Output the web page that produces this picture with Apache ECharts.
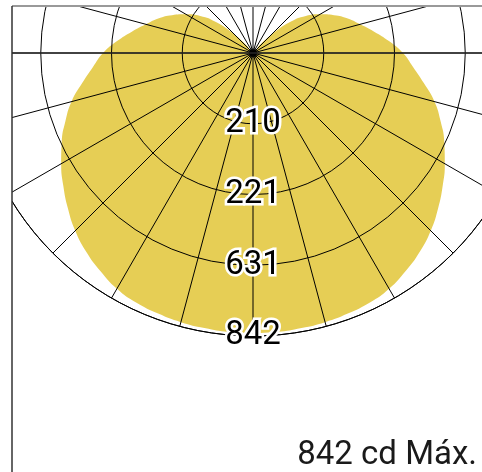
<!DOCTYPE html>
<html>
<head>
<meta charset="utf-8">
<script src="https://cdn.jsdelivr.net/npm/echarts@6/dist/echarts.min.js"></script>
<style>
html,body{margin:0;padding:0;background:#fff;}
#chart{width:482px;height:472px;}
</style>
</head>
<body>
<div id="chart"></div>
<script>
// Gamma angles (degrees from nadir) and luminous intensity (cd), symmetric curve
const gammaAngles = [0,5,10,15,20,25,30,35,40,45,50,55,60,65,70,75,80,85,90,95,100,105,110,115,120,125,130,135,140,145,150,155,160,165,170,175,180];
const intensity   = [833,833,831,829,825,820,810,792,772,748,719,689,659,628,594,559,516,478,446,406,366,330,300,266,230,192,142,76,30,0,0,0,0,0,0,0,0];
// Radial tick labels as printed on the chart
const radiusTickLabels = ['210','221','631','842'];
const maxIntensity = 842;
const titleText = '842 cd Máx.';

const data = [];
for (let i = 0; i < gammaAngles.length; i++) data.push([intensity[i], gammaAngles[i]]);
for (let i = gammaAngles.length - 2; i >= 0; i--) data.push([intensity[i], 360 - gammaAngles[i]]);

const chart = echarts.init(document.getElementById('chart'));
chart.setOption({
  animation: false,
  backgroundColor: '#fff',
  title: {
    text: titleText,
    right: 5, top: 439, padding: 0,
    textStyle: {fontFamily: 'Roboto', fontSize: 33, fontWeight: 'normal', color: '#1a1a1a', letterSpacing: 0.8}
  },
  polar: {center: [253, 53], radius: 283},
  angleAxis: {
    type: 'value', min: 0, max: 360, interval: 15, startAngle: 270,
    z: 3,
    axisLine: {show: true, lineStyle: {color: '#000', width: 1}},
    axisTick: {show: false},
    axisLabel: {show: false},
    splitLine: {show: true, lineStyle: {color: '#000', width: 1}}
  },
  radiusAxis: {
    type: 'value', min: 0, max: maxIntensity, interval: maxIntensity / 4,
    z: 4,
    axisLine: {show: false},
    axisTick: {show: false},
    splitLine: {show: true, lineStyle: {color: '#000', width: 1}},
    axisLabel: {
      show: true, showMinLabel: false, margin: 0,
      align: 'center', verticalAlign: 'middle',
      fontFamily: 'Roboto', fontSize: 33, color: '#000',
      textBorderColor: '#fff', textBorderWidth: 5,
      formatter: function (v) {
        const idx = Math.round(v / (maxIntensity / 4)) - 1;
        return idx >= 0 ? radiusTickLabels[idx] : '';
      }
    }
  },
  series: [
    {
      type: 'line', coordinateSystem: 'polar', data: data,
      symbol: 'none', smooth: 0.5, z: 1,
      lineStyle: {width: 0},
      areaStyle: {color: '#E6CE55', opacity: 1}
    },
    {
      type: 'scatter', coordinateSystem: 'polar', data: [[0, 0]],
      symbol: 'circle', symbolSize: 9, z: 10,
      itemStyle: {color: '#000'}
    }
  ],
  graphic: [
    {type: 'rect', z: 100, shape: {x: 0, y: 0, width: 12, height: 472}, style: {fill: '#fff'}},
    {type: 'rect', z: 100, shape: {x: 0, y: 0, width: 482, height: 6}, style: {fill: '#fff'}},
    {type: 'line', z: 101, shape: {x1: 12, y1: 6, x2: 482, y2: 6}, style: {stroke: '#999', lineWidth: 2}},
    {type: 'line', z: 101, shape: {x1: 12, y1: 6, x2: 12, y2: 472}, style: {stroke: '#333', lineWidth: 1.5}},
    {type: 'line', z: 101, shape: {x1: 12, y1: 53, x2: 482, y2: 53}, style: {stroke: 'rgba(40,40,40,0.7)', lineWidth: 2}}
  ]
});
</script>
</body>
</html>
